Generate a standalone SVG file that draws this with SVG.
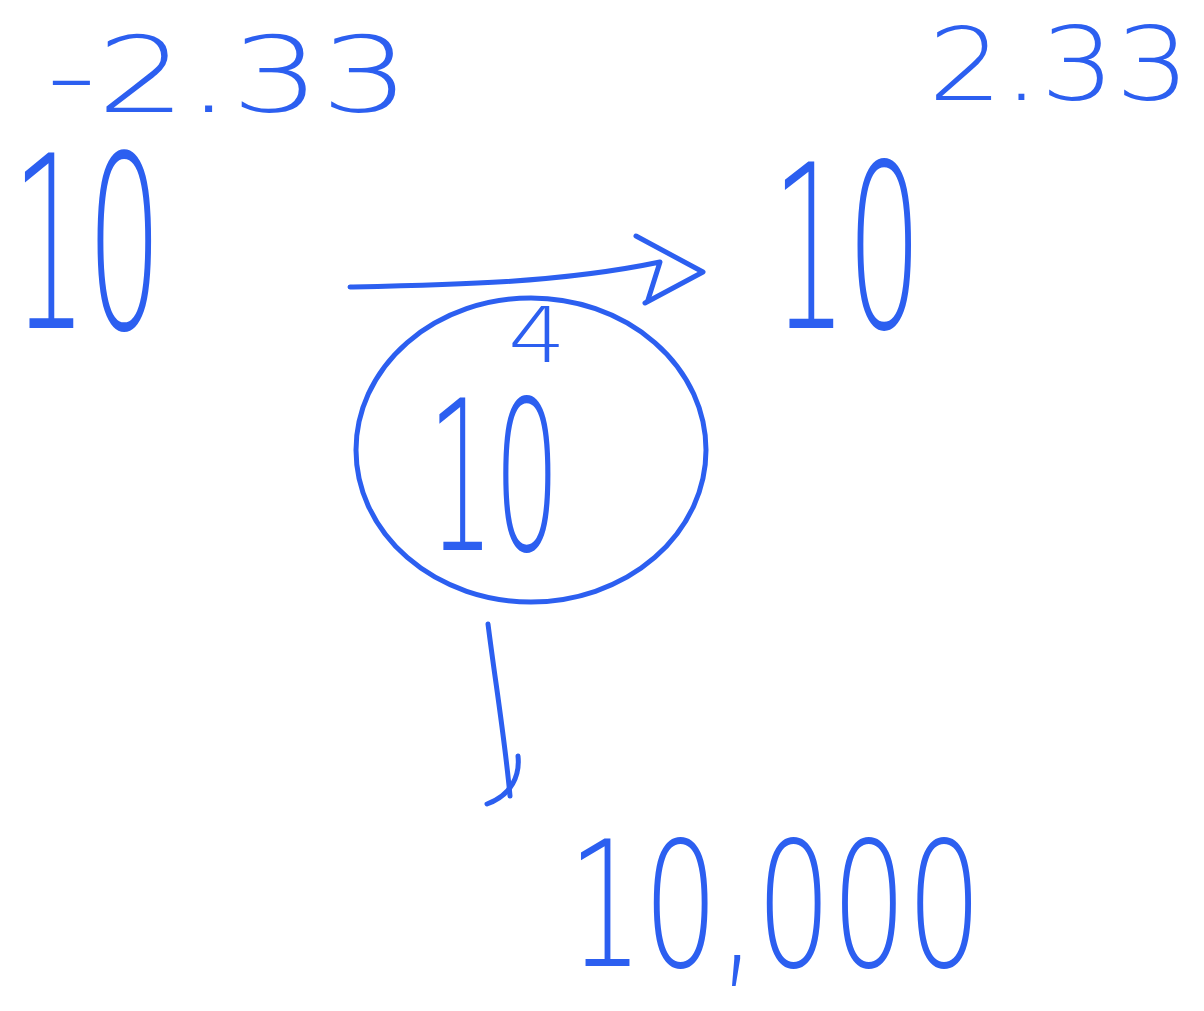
<svg xmlns="http://www.w3.org/2000/svg" width="1204" height="1011" viewBox="0 0 1204 1011">
<style>
.t{font-family:"DejaVu Sans","Liberation Sans",sans-serif;font-weight:200;fill:#2c5ff0}
.s{fill:none;stroke:#2c5ff0;stroke-width:5;stroke-linecap:round;stroke-linejoin:round}
</style>
<rect width="1204" height="1011" fill="#ffffff"/>
<g id="label-neg"><text class="t" x="46" y="112" font-size="106" textLength="364" lengthAdjust="spacingAndGlyphs">-2.33</text></g>
<g id="label-pos"><text class="t" x="928" y="100" font-size="102" textLength="262" lengthAdjust="spacingAndGlyphs">2.33</text></g>
<g id="node-left"><text class="t" x="12" y="328" font-size="240" textLength="150" lengthAdjust="spacingAndGlyphs">10</text></g>
<g id="node-right"><text class="t" x="772" y="328" font-size="228" textLength="150" lengthAdjust="spacingAndGlyphs">10</text></g>
<g id="node-center">
<ellipse class="s" cx="531" cy="450" rx="175" ry="152"/>
<text class="t" x="428" y="550" font-size="208" textLength="132" lengthAdjust="spacingAndGlyphs">10</text>
</g>
<g id="label-4"><text class="t" x="508" y="362" font-size="76" textLength="58" lengthAdjust="spacingAndGlyphs">4</text></g>
<g id="node-bottom"><text class="t" x="568" y="966" font-size="175" textLength="414" lengthAdjust="spacingAndGlyphs">10,000</text></g>
<g id="connectors">
<path class="s" d="M350,287 C450,285 560,283 660,262 L648,300"/>
<path class="s" d="M636,236 L703,272 L645,303"/>
<path class="s" d="M488,624 C495,680 505,740 510,796"/>
<path class="s" d="M518,756 C520,775 512,795 487,804"/>
</g>
</svg>
